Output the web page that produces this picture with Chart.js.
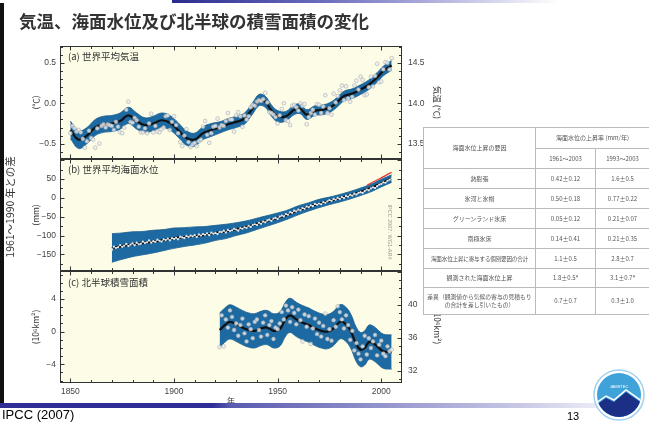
<!DOCTYPE html>
<html><head><meta charset="utf-8">
<script src="https://cdn.jsdelivr.net/npm/chart.js@4.4.1/dist/chart.umd.min.js"></script>
<style>
html,body{margin:0;padding:0;background:#fff;width:649px;height:423px;overflow:hidden;font-family:"Noto Sans CJK JP","Noto Sans",sans-serif;}
canvas{position:absolute;left:0;top:0;}
.t{position:absolute;white-space:nowrap;}
#title{left:19px;top:9px;font-size:17.5px;font-weight:bold;color:#333;line-height:24px;}
.plab{font-size:9.5px;color:#333;line-height:11px;}
#tbl{position:absolute;left:423px;top:127px;width:226px;border-collapse:collapse;background:#fff;font-size:6px;color:#555;table-layout:fixed;}
#tbl td{border:1px solid #bbb;text-align:center;padding:0 1px;line-height:8px;white-space:nowrap;overflow:hidden;}
#tbl td.w{white-space:normal;font-size:5.8px;line-height:8px;}
#tbl tr{height:20px;}
</style></head><body>
<canvas id="ca" width="649" height="423"></canvas>
<canvas id="cb" width="649" height="423"></canvas>
<canvas id="cc" width="649" height="423"></canvas>

<div class="t" style="left:0;top:0;width:649px;height:3px;background:linear-gradient(90deg,#fff 0,#fff 172px,#2b2b8f 172px,#7070c0 330px,#fff 560px);"></div>
<div class="t" style="left:0;top:3px;width:4px;height:401px;background:#111;"></div>
<div class="t" style="left:0;top:403px;width:649px;height:5px;background:linear-gradient(90deg,#2e2e96 0,#2e2e96 213px,#5a5ab0 230px,#c8c8e6 520px,#fff 640px);"></div>

<div class="t" id="title">気温、海面水位及び北半球の積雪面積の変化</div>
<div class="t plab" style="left:68px;top:51px;">(a) 世界平均気温</div>
<div class="t plab" style="left:68px;top:164px;">(b) 世界平均海面水位</div>
<div class="t plab" style="left:68px;top:277px;">(c) 北半球積雪面積</div>
<div class="t" style="left:9px;top:207px;transform:translate(-50%,-50%) rotate(-90deg);font-size:10.5px;color:#333;">1961～1990 年との差</div>
<div class="t" style="left:390px;top:232px;transform:translate(-50%,-50%) rotate(90deg);font-size:5.5px;color:#999;font-family:'Liberation Sans',sans-serif;">IPCC 2007: WG1-AR4</div>

<table id="tbl">
<colgroup><col style="width:112px"><col style="width:60px"><col style="width:54px"></colgroup>
<tr style="height:21px"><td rowspan="2">海面水位上昇の要因</td><td colspan="2">海面水位の上昇率 (mm/年)</td></tr>
<tr><td>1961～2003</td><td>1993～2003</td></tr>
<tr><td>熱膨張</td><td>0.42±0.12</td><td>1.6±0.5</td></tr>
<tr><td>氷河と氷帽</td><td>0.50±0.18</td><td>0.77±0.22</td></tr>
<tr><td>グリーンランド氷床</td><td>0.05±0.12</td><td>0.21±0.07</td></tr>
<tr><td>南極氷床</td><td>0.14±0.41</td><td>0.21±0.35</td></tr>
<tr><td style="font-size:5.6px;letter-spacing:-0.2px;">海面水位上昇に寄与する個別要因の合計</td><td>1.1±0.5</td><td>2.8±0.7</td></tr>
<tr style="height:19px"><td>観測された海面水位上昇</td><td>1.8±0.5ª</td><td>3.1±0.7ª</td></tr>
<tr style="height:27px"><td class="w">差異（観測値から気候の寄与の見積もりの合計を差し引いたもの）</td><td>0.7±0.7</td><td>0.3±1.0</td></tr>
</table>

<div class="t" style="left:2px;top:407px;font-size:13px;font-family:'Liberation Sans',Arial,sans-serif;color:#000;line-height:16px;">IPCC (2007)</div>
<div class="t" style="left:567px;top:409px;font-size:11px;font-family:'Liberation Sans',Arial,sans-serif;color:#000;line-height:14px;">13</div>
<svg class="t" style="left:592px;top:368px;" width="54" height="54" viewBox="0 0 54 54">
<defs><clipPath id="cl"><circle cx="27" cy="27" r="22"/></clipPath></defs>
<circle cx="27" cy="27" r="25" fill="#fff" stroke="#9fd0ee" stroke-width="1.5"/>
<circle cx="27" cy="27" r="22" fill="#3fa3da"/>
<path clip-path="url(#cl)" d="M0 40 L14 30 L22 34 L34 24 L54 38 L54 54 L0 54 Z" fill="#1b2f86"/>
<path clip-path="url(#cl)" d="M0 38 L14 28 L22 32 L34 22 L54 36" fill="none" stroke="#fff" stroke-width="1.5"/>
<text x="27" y="20" font-size="4" fill="#fff" text-anchor="middle" font-family="Liberation Sans">JAMSTEC</text>
</svg>

<script>
// ---------------- data ----------------
const X_MIN = 1845, X_MAX = 2010;
const xMajorTicks = [1850, 1900, 1950, 2000];

// (a) global mean temperature anomaly (°C, vs 1961-1990)
const tempSmoothYears = [1850,1854,1858,1862,1866,1870,1874,1878,1882,1886,1890,1894,1898,1902,1906,1910,1914,1918,1922,1926,1930,1934,1938,1941,1944,1947,1950,1954,1958,1961,1964,1968,1972,1976,1979,1982,1986,1990,1994,1998,2001,2005];
const tempSmooth = [-0.33,-0.45,-0.40,-0.30,-0.26,-0.25,-0.22,-0.15,-0.22,-0.27,-0.25,-0.21,-0.24,-0.33,-0.43,-0.45,-0.37,-0.33,-0.30,-0.26,-0.23,-0.19,-0.06,0.04,0.02,-0.09,-0.16,-0.16,-0.08,-0.07,-0.14,-0.09,-0.08,-0.04,0.02,0.09,0.12,0.17,0.23,0.32,0.40,0.47];
const tempHigh = [-0.22,-0.34,-0.30,-0.20,-0.16,-0.15,-0.12,-0.05,-0.12,-0.18,-0.16,-0.12,-0.15,-0.24,-0.34,-0.37,-0.29,-0.25,-0.23,-0.19,-0.16,-0.12,0.01,0.11,0.09,-0.02,-0.09,-0.10,-0.02,-0.01,-0.08,-0.03,-0.02,0.02,0.08,0.15,0.18,0.23,0.29,0.38,0.46,0.53];
const tempLow = [-0.44,-0.56,-0.50,-0.40,-0.36,-0.35,-0.32,-0.25,-0.32,-0.36,-0.34,-0.30,-0.33,-0.42,-0.52,-0.53,-0.45,-0.41,-0.37,-0.33,-0.30,-0.26,-0.13,-0.03,-0.05,-0.16,-0.23,-0.22,-0.14,-0.13,-0.20,-0.15,-0.14,-0.10,-0.04,0.03,0.06,0.11,0.17,0.26,0.34,0.41];
const tempAnnualStart = 1850;
const tempAnnual = [
-0.37,-0.28,-0.31,-0.35,-0.33,-0.36,-0.44,-0.55,-0.47,-0.34,
-0.43,-0.45,-0.55,-0.31,-0.50,-0.28,-0.26,-0.30,-0.26,-0.27,
-0.28,-0.33,-0.23,-0.29,-0.36,-0.37,-0.30,-0.08,0.02,-0.23,
-0.24,-0.18,-0.21,-0.29,-0.36,-0.36,-0.31,-0.37,-0.25,-0.13,
-0.36,-0.28,-0.35,-0.36,-0.32,-0.30,-0.16,-0.15,-0.33,-0.23,
-0.16,-0.27,-0.37,-0.48,-0.53,-0.40,-0.32,-0.48,-0.54,-0.51,
-0.49,-0.53,-0.47,-0.45,-0.29,-0.22,-0.39,-0.49,-0.37,-0.29,
-0.28,-0.19,-0.30,-0.27,-0.28,-0.22,-0.12,-0.20,-0.20,-0.35,
-0.15,-0.11,-0.16,-0.29,-0.15,-0.20,-0.16,-0.05,-0.02,-0.03,
0.02,0.04,0.03,0.05,0.13,0.01,-0.11,-0.12,-0.14,-0.17,
-0.25,-0.15,-0.07,0.00,-0.21,-0.22,-0.27,-0.03,-0.02,-0.05,
-0.09,0.00,-0.03,-0.01,-0.26,-0.17,-0.12,-0.08,-0.14,-0.01,
-0.02,-0.12,-0.04,0.10,-0.12,-0.06,-0.14,0.12,0.01,0.09,
0.16,0.22,0.04,0.21,0.06,0.02,0.08,0.22,0.28,0.17,
0.33,0.29,0.10,0.11,0.20,0.33,0.21,0.34,0.49,0.26,
0.27,0.42,0.51,0.50,0.42,0.56];
const tempLeftTicks = [-0.5, 0, 0.5];
const tempRightTicks = [13.5, 14.0, 14.5];

// (b) global mean sea level (mm, vs 1961-1990)
const slYears = [1870,1875,1880,1885,1890,1895,1900,1905,1910,1915,1920,1925,1930,1935,1940,1945,1950,1955,1960,1965,1970,1975,1980,1985,1990,1995,2000,2005];
const slSmooth = [-133,-128,-123,-120,-116,-112,-107,-104,-101,-98,-93,-89,-83,-77,-69,-61,-53,-44,-33,-24,-15,-8,-1,7,16,26,39,51];
const slHigh = [-95,-93,-90,-89,-86,-84,-80,-79,-77,-76,-73,-70,-66,-61,-54,-47,-40,-32,-21,-13,-4,2,9,17,26,36,49,61];
const slLow = [-171,-163,-156,-151,-146,-140,-134,-129,-125,-120,-113,-108,-100,-93,-84,-75,-66,-56,-45,-35,-26,-18,-11,-3,6,16,29,41];
const slAnnualStart = 1870;
const slAnnual = [
-138,-129,-133,-131,-125,-130,-127,-122,-128,-124,
-121,-126,-119,-123,-122,-116,-120,-118,-113,-119,
-115,-117,-111,-114,-116,-110,-112,-108,-113,-107,
-109,-106,-110,-103,-105,-107,-101,-104,-100,-102,
-99,-104,-97,-100,-96,-98,-94,-99,-92,-95,
-93,-96,-90,-91,-87,-92,-85,-88,-86,-82,
-84,-87,-80,-82,-78,-80,-74,-77,-72,-70,
-72,-66,-69,-63,-65,-60,-58,-61,-55,-53,
-56,-50,-47,-49,-43,-45,-38,-40,-34,-36,
-31,-33,-27,-29,-23,-25,-20,-22,-16,-18,
-15,-17,-11,-13,-9,-6,-8,-3,-5,0,
-3,2,-1,5,3,8,6,11,9,13,
15,13,18,22,20,25,28,26,31,35,
37,41,40,45,48,51];
const satYears = [1993,1996,1999,2002,2005];
const satLevel = [33,42,50,59,68];
const slTicks = [-150,-100,-50,0,50];

// (c) NH snow cover (million km2)
const snYears = [1922,1925,1927,1930,1933,1936,1939,1942,1945,1948,1951,1954,1956,1959,1962,1965,1968,1971,1974,1977,1980,1982,1985,1988,1990,1992,1994,1996,1998,2001,2005];
const snSmooth = [0.2,0.9,1.2,0.9,0.5,0.2,0.1,0.4,0.5,0.1,0.3,1.6,2.0,1.5,1.1,0.8,0.4,0.1,0.0,0.4,1.2,1.1,0.2,-1.6,-2.2,-2.0,-1.3,-1.4,-1.8,-2.4,-2.5];
const snHigh = [2.3,3.0,3.3,3.0,2.6,2.3,2.2,2.5,2.6,2.2,2.4,3.7,4.1,3.6,3.2,2.9,2.5,2.2,2.1,2.5,3.3,3.2,2.3,0.5,-0.1,0.1,0.8,0.7,0.3,-0.3,-0.4];
const snLow = [-1.9,-1.2,-0.9,-1.2,-1.6,-1.9,-2.0,-1.7,-1.6,-2.0,-1.8,-0.5,-0.1,-0.6,-1.0,-1.3,-1.7,-2.0,-2.1,-1.7,-0.9,-1.0,-1.9,-3.7,-4.3,-4.1,-3.4,-3.5,-3.9,-4.5,-4.6];
const snAnnualStart = 1922;
const snAnnual = [
-1.9,2.0,-1.8,1.5,0.5,2.6,1.8,0.2,
1.0,-0.5,0.8,1.6,-0.2,-1.2,0.9,0.3,-0.8,1.2,
1.5,0.2,-0.6,1.1,2.0,-0.4,0.8,1.3,-0.9,0.5,
0.3,1.0,2.4,1.5,3.2,2.6,1.2,3.0,2.3,0.9,
2.7,1.4,-1.2,2.1,0.6,1.9,-1.5,0.4,1.6,-0.3,
1.1,-0.6,0.7,2.2,-0.9,0.3,-1.1,1.4,0.6,3.1,
2.4,1.5,0.4,2.0,0.8,-1.0,0.1,-2.3,-1.4,-2.7,
-3.4,-1.8,-0.5,-2.8,-0.8,-2.0,-1.2,-0.4,-2.9,-1.6,
-1.1,-2.7,-3.0,-1.8,-2.4,-2.2];
const snLeftTicks = [-4, 0, 4];
const snRightTicks = [32, 36, 40];

// ---------------- styling ----------------
const BAND = '#1d6aa2';
const BAND_EDGE = '#175a8c';
const DOT_FILL = 'rgba(236,239,242,0.8)';
const DOT_EDGE = 'rgba(165,165,165,0.8)';
const TICK_FONT = {family:"'Liberation Sans', Arial, sans-serif", size:8.5};
const TICK_COLOR = '#444';
const TITLE_FONT = {family:"'Noto Sans CJK JP', sans-serif", size:8.5};

const pts = (xs, ys) => xs.map((x, i) => ({x, y: ys[i]}));
const annual = (start, ys) => ys.map((y, i) => ({x: start + i, y}));
const fmt = d => v => (d ? Number(v).toFixed(d) : String(v)).replace('-', '−');

const framePlugin = {
  id: 'frame',
  beforeDraw(chart) {
    const {ctx, chartArea: a} = chart;
    ctx.save();
    ctx.fillStyle = '#fdfde7';
    ctx.fillRect(a.left, a.top, a.right - a.left, a.bottom - a.top);
    ctx.restore();
  },
  afterDraw(chart, args, o) {
    const {ctx, chartArea: a, scales} = chart;
    ctx.save();
    ctx.strokeStyle = '#333';
    ctx.lineWidth = 1;
    const L = Math.round(a.left) + 0.5, R = Math.round(a.right) - 0.5, T = Math.round(a.top) + 0.5, B = Math.round(a.bottom) - 0.5;
    ctx.strokeRect(L, T, R - L, B - T);
    ctx.beginPath();
    const sx = scales.x;
    for (let v = 1850; v <= 2000; v += 10) {
      const p = Math.round(sx.getPixelForValue(v)) + 0.5;
      const len = v % 50 === 0 ? 4 : 2.5;
      ctx.moveTo(p, T); ctx.lineTo(p, T + len);
      ctx.moveTo(p, B); ctx.lineTo(p, B - len);
    }
    const yTicks = (scale, side, from, to, step, major) => {
      for (let v = from; v <= to + 1e-9; v += step) {
        const p = Math.round(scale.getPixelForValue(v)) + 0.5;
        if (p < T + 1 || p > B - 1) continue;
        const isMaj = Math.abs(v / major - Math.round(v / major)) < 1e-6;
        const len = isMaj ? 4 : 2.5;
        const x0 = side === 'l' ? L : R;
        ctx.moveTo(x0, p); ctx.lineTo(side === 'l' ? x0 + len : x0 - len, p);
      }
    };
    yTicks(scales.y, 'l', o.yFrom, o.yTo, o.yStep, o.yMajor);
    if (scales.yR) yTicks(scales.yR, 'r', o.rFrom, o.rTo, o.rStep, o.rMajor);
    else yTicks(scales.y, 'r', o.yFrom, o.yTo, o.yStep, o.yMajor);
    ctx.stroke();
    ctx.restore();
  }
};

function yAxis(pos, min, max, ticks, dec, title, titlePad, width) {
  return {
    position: pos, min, max,
    afterFit: s => { s.width = width; },
    afterBuildTicks: s => { s.ticks = ticks.map(v => ({value: v})); },
    ticks: {callback: fmt(dec), font: TICK_FONT, color: TICK_COLOR, padding: pos === 'left' ? 4 : 6},
    grid: {display: false, drawTicks: false},
    border: {display: false},
    title: title ? {display: true, text: title, font: TITLE_FONT, color: '#333', padding: {top: titlePad, bottom: 0}} : {display: false}
  };
}

function xAxis(show) {
  const ax = {
    type: 'linear', min: X_MIN, max: X_MAX, display: show, position: 'bottom',
    grid: {display: false, drawTicks: false}, border: {display: false}
  };
  if (show) {
    ax.afterFit = s => { s.height = 40; };
    ax.afterBuildTicks = s => { s.ticks = xMajorTicks.map(v => ({value: v})); };
    ax.ticks = {font: TICK_FONT, color: TICK_COLOR, padding: 4, maxRotation: 0, autoSkip: false, callback: v => String(v)};
    ax.title = {display: true, text: '年', font: {family: "'Noto Sans CJK JP', sans-serif", size: 8}, color: '#333', padding: {top: 0, bottom: 17}};
  }
  return ax;
}

function sets(smY, sm, hi, lo, annStart, ann, annStyle, extra) {
  const ds = [
    Object.assign({data: annual(annStart, ann), showLine: false, pointRadius: 1.9, pointBorderWidth: 0.7, pointBackgroundColor: DOT_FILL, pointBorderColor: DOT_EDGE, order: 0}, annStyle || {}),
    {data: pts(smY, sm), borderColor: '#111', borderWidth: 2.2, pointRadius: 0, tension: 0.4, fill: false, order: 1},
    {data: pts(smY, hi), borderColor: BAND_EDGE, borderWidth: 0.8, backgroundColor: BAND, pointRadius: 0, tension: 0.4, fill: '+1', order: 3},
    {data: pts(smY, lo), borderColor: BAND_EDGE, borderWidth: 0.8, pointRadius: 0, tension: 0.4, fill: false, order: 4}
  ];
  if (extra) ds.push(extra);
  return ds;
}

function make(id, datasets, scales, padding, frameOpts) {
  return new Chart(document.getElementById(id), {
    type: 'line',
    data: {datasets},
    options: {
      responsive: false, animation: false, events: [],
      layout: {padding},
      plugins: {legend: {display: false}, tooltip: {enabled: false}, frame: frameOpts},
      scales
    },
    plugins: [framePlugin]
  });
}

// panel a
make('ca',
  sets(tempSmoothYears, tempSmooth, tempHigh, tempLow, tempAnnualStart, tempAnnual),
  {x: xAxis(false),
   y: yAxis('left', -0.69, 0.71, tempLeftTicks, 1, '(℃)', 31, 60),
   yR: yAxis('right', 13.31, 14.71, tempRightTicks, 1, '気温 (℃)', 0, 40)},
  {top: 46, bottom: 264, left: 0, right: 207},
  {yFrom: -0.6, yTo: 0.7, yStep: 0.1, yMajor: 0.5, rFrom: 13.4, rTo: 14.7, rStep: 0.1, rMajor: 0.5});

// panel b
make('cb',
  sets(slYears, slSmooth, slHigh, slLow, slAnnualStart, slAnnual,
    {showLine: true, borderColor: 'rgba(215,222,230,0.85)', borderWidth: 1, pointRadius: 1.1, pointBorderWidth: 0, pointBackgroundColor: 'rgba(240,242,245,0.9)', tension: 0},
    {data: pts(satYears, satLevel), borderColor: '#e8352c', borderWidth: 1.3, pointRadius: 0, tension: 0.3, fill: false, order: 0}),
  {x: xAxis(false),
   y: yAxis('left', -194, 103, slTicks, 0, '(mm)', 31, 60)},
  {top: 159, bottom: 152, left: 0, right: 247},
  {yFrom: -175, yTo: 100, yStep: 25, yMajor: 50});

// panel c
make('cc',
  sets(snYears, snSmooth, snHigh, snLow, snAnnualStart, snAnnual),
  {x: xAxis(true),
   y: yAxis('left', -6.29, 7.43, snLeftTicks, 0, '(10⁶km²)', 31, 60),
   yR: yAxis('right', 30.5, 44.1, snRightTicks, 0, '(10⁶km²)', 0, 40)},
  {top: 271, bottom: 0, left: 0, right: 207},
  {yFrom: -6, yTo: 7, yStep: 1, yMajor: 4, rFrom: 31, rTo: 44, rStep: 1, rMajor: 4});
</script>
</body></html>
